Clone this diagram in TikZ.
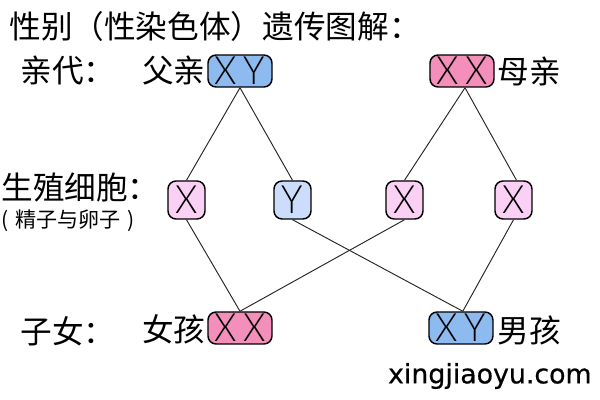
\documentclass[tikz,border=0pt]{standalone}
\usepackage{fontspec}
\setmainfont{Noto Sans CJK SC}
\newfontfamily\parenfont{Noto Sans CJK TC}
\newfontfamily\genefont[FakeStretch=0.92]{Lato Light}
\newfontfamily\sitefont[FakeBold=0.5]{DejaVu Sans}
\definecolor{boyblue}{HTML}{8DBBF0}
\definecolor{girlpink}{HTML}{F38FBA}
\definecolor{eggpink}{HTML}{FBD0F5}
\definecolor{spermblue}{HTML}{CBDDFA}
\tikzset{
	chromo/.style={draw=black,line width=0.7pt,rounded corners=3.8pt,inner sep=0pt,font=\genefont\fontsize{18.5}{18.5}\selectfont},
	pairbox/.style={chromo,minimum width=1.0667cm,minimum height=0.5333cm},
	gamete/.style={chromo,minimum width=0.6167cm,minimum height=0.6333cm},
	label/.style={inner sep=0pt,font=\fontsize{15}{15}\selectfont},
	line/.style={draw=black!85,line width=0.45pt}
}
\begin{document}
\begin{tikzpicture}[x=1cm/60,y=-1cm/60]
	\useasboundingbox (0,0) rectangle (600,400);
	
	% Draw title
	\node[label,anchor=west] (title) at (9,26) {性别{\parenfont （}性染色体{\parenfont ）}遗传图解：};
	
	% Draw row labels
	\node[label,anchor=west] (parents) at (20,71) {亲代：};
	\node[label,anchor=west] (cells) at (1,187) {生殖细胞：};
	\node[inner sep=0pt,anchor=west,font=\fontsize{10}{10}\selectfont] (cellsnote) at (1,221) {(\hspace{1pt} 精子与卵子\hspace{1pt} )};
	\node[label,anchor=west] (children) at (20,331) {子女：};
	
	% Draw parents
	\node[pairbox,fill=boyblue] (father) at (240,71) {X\hspace{3pt}Y};
	\node[pairbox,fill=girlpink] (mother) at (462,71) {X\hspace{3pt}X};
	\node[label,anchor=east] (fatherlabel) at (206,71) {父亲};
	\node[label,anchor=west] (motherlabel) at (497,71) {母亲};
	
	% Draw germ cells
	\node[gamete,fill=eggpink] (spermx) at (186.5,200) {X};
	\node[gamete,fill=spermblue] (spermy) at (292.5,200) {Y};
	\node[gamete,fill=eggpink] (eggx) at (404.5,200) {X};
	\node[gamete,fill=eggpink] (eggxx) at (513.5,200) {X};
	
	% Draw children
	\node[pairbox,fill=girlpink] (daughter) at (240,328) {X\hspace{3pt}X};
	\node[pairbox,fill=boyblue] (son) at (461,328) {X\hspace{3pt}Y};
	\node[label,anchor=east] (daughterlabel) at (206,329) {女孩};
	\node[label,anchor=west] (sonlabel) at (497,330) {男孩};
	
	% Draw lines
	\draw[line] (father.south) -- (spermx.north);
	\draw[line] (father.south) -- (spermy.north);
	\draw[line] ([xshift=0.05cm]mother.south) -- (eggx.north);
	\draw[line] ([xshift=0.05cm]mother.south) -- ([xshift=0.05cm]eggxx.north);
	\draw[line] (spermx.south) -- (daughter.north);
	\draw[line] (eggx.south) -- (daughter.north);
	\draw[line] (spermy.south) -- ([xshift=0.03cm]son.north);
	\draw[line] (eggxx.south) -- ([xshift=0.03cm]son.north);
	
	% Add site name
	\node[anchor=east,inner sep=0pt,font=\sitefont\fontsize{12.7}{12.7}\selectfont] (site) at (592,376) {xingjiaoyu.com};
\end{tikzpicture}
\end{document}
